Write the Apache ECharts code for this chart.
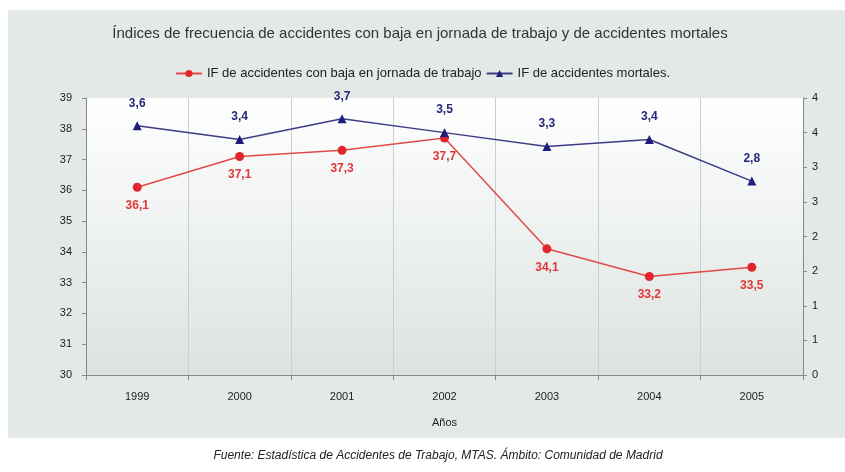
<!DOCTYPE html>
<html>
<head>
<meta charset="utf-8">
<script src="https://cdn.jsdelivr.net/npm/echarts@6/dist/echarts.min.js"></script>
<style>
  html, body { margin: 0; padding: 0; background: #fff; }
  #chart { width: 845px; height: 472px; }
</style>
</head>
<body>
<div id="chart"></div>
<script>
// datos
const years = ['1999', '2000', '2001', '2002', '2003', '2004', '2005'];
const ifBaja = [36.1, 37.1, 37.3, 37.7, 34.1, 33.2, 33.5];
const ifMortales = [3.6, 3.4, 3.7, 3.5, 3.3, 3.4, 2.8];
const leftTicks = [30, 39, 1];   // min, max, intervalo
const rightTicks = [0, 4, 0.5];

const font = '"Liberation Sans Narrow", "Liberation Sans", sans-serif';
const coma = v => String(v).replace('.', ',');

const chart = echarts.init(document.getElementById('chart'));

const option = {
  backgroundColor: '#fff',
  animation: false,
  graphic: [
    { type: 'rect', shape: { x: 8, y: 10, width: 837, height: 428 }, style: { fill: '#e3e9e6' }, z: -10 },
    {
      type: 'rect', shape: { x: 86, y: 98, width: 717, height: 277 }, z: -9,
      style: {
        fill: new echarts.graphic.LinearGradient(0, 0, 0, 1, [
          { offset: 0, color: '#ffffff' },
          { offset: 1, color: '#dbe3df' }
        ])
      }
    },
    {
      type: 'text', x: 438, y: 450,
      style: {
        text: 'Fuente: Estadística de Accidentes de Trabajo, MTAS. Ámbito: Comunidad de Madrid',
        font: 'italic 12px ' + font, fill: '#222', align: 'center'
      }
    }
  ],
  title: {
    text: 'Índices de frecuencia de accidentes con baja en jornada de trabajo y de accidentes mortales',
    left: 415, top: 21, textAlign: 'center',
    textStyle: { fontFamily: font, fontSize: 15, fontWeight: 'normal', color: '#333' }
  },
  legend: {
    top: 62, left: 'center',
    itemWidth: 26, itemHeight: 9, itemGap: 4,
    textStyle: { fontFamily: font, fontSize: 13, color: '#222' },
    data: [
      'IF de accidentes con baja en jornada de trabajo',
      'IF de accidentes mortales.'
    ]
  },
  grid: { left: 86, right: 42, top: 98, bottom: 97 },
  xAxis: {
    type: 'category',
    data: years,
    name: 'Años', nameLocation: 'middle', nameGap: 42,
    nameTextStyle: { fontFamily: font, fontSize: 11, color: '#222' },
    axisLine: { lineStyle: { color: '#888' } },
    axisTick: { show: true, lineStyle: { color: '#888' } },
    axisLabel: { fontFamily: font, fontSize: 11, color: '#222', margin: 16 },
    splitLine: { show: true, lineStyle: { color: '#c8cfcc' } }
  },
  yAxis: [
    {
      type: 'value', min: leftTicks[0], max: leftTicks[1], interval: leftTicks[2],
      axisLine: { show: true, lineStyle: { color: '#888' } },
      axisTick: { show: true, inside: false, length: 4, lineStyle: { color: '#888' } },
      axisLabel: { fontFamily: font, fontSize: 11, color: '#222', margin: 14 },
      splitLine: { show: false }
    },
    {
      type: 'value', min: rightTicks[0], max: rightTicks[1], interval: rightTicks[2],
      axisLine: { show: true, lineStyle: { color: '#888' } },
      axisTick: { show: true, length: 4, lineStyle: { color: '#888' } },
      axisLabel: { fontFamily: font, fontSize: 11, color: '#222', margin: 9, formatter: v => Math.round(v) },
      splitLine: { show: false }
    }
  ],
  series: [
    {
      name: 'IF de accidentes con baja en jornada de trabajo',
      type: 'line', yAxisIndex: 0, data: ifBaja,
      symbol: 'circle', symbolSize: 9,
      itemStyle: { color: '#e3262b' },
      lineStyle: { color: '#e24a4a', width: 1.5 },
      label: {
        show: true, position: 'bottom', distance: 8,
        formatter: p => coma(p.value),
        fontFamily: font, fontSize: 12, fontWeight: 'bold', color: '#e0383a'
      }
    },
    {
      name: 'IF de accidentes mortales.',
      type: 'line', yAxisIndex: 1, data: ifMortales,
      symbol: 'triangle', symbolSize: 9,
      itemStyle: { color: '#1e1e7a' },
      lineStyle: { color: '#3c3c86', width: 1.5 },
      label: {
        show: true, position: 'top', distance: 12,
        formatter: p => coma(p.value),
        fontFamily: font, fontSize: 12, fontWeight: 'bold', color: '#26267a'
      }
    }
  ]
};

chart.setOption(option);
</script>
</body>
</html>
